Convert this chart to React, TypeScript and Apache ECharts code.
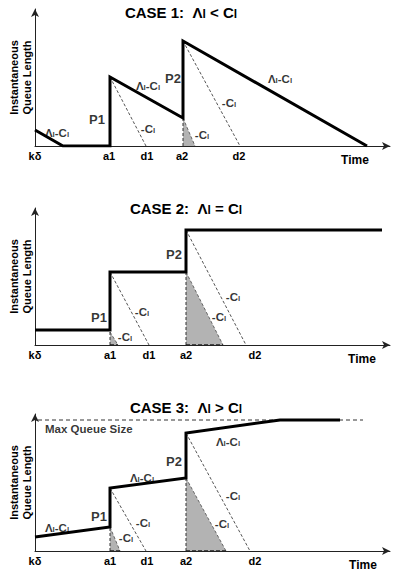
import React, { useEffect, useRef } from 'react';
import * as echarts from 'echarts';

const FONT = '"Liberation Sans", Arial, Helvetica, sans-serif';

// Shared scale (arbitrary schematic units)
const xMax = 355;
const yMax = 137;

type Note = [number, number, string];

// ---------- CASE 1: Λl < Cl ----------
const case1Queue = [[0, 16], [28, 0], [75, 0], [75, 69], [148, 28], [148, 105], [332, 0]];
const case1Drains = [[[75, 69], [111, 0]], [[148, 105], [205, 0]]];
const case1Shades = [[[148, 28], [160, 0]]];
const case1Ticks = [0, 74, 112, 147, 204];
const case1TickLabels = ['kδ', 'a1', 'd1', 'a2', 'd2'];
const case1TimeX = 320;
const case1Notes: Note[] = [
  [22, 14, 'RATE'], [62, 28, 'P1'], [113, 61, 'RATE'], [138, 69, 'P2'], [245, 68, 'RATE'],
  [113, 18, 'DRAIN'], [194, 44, 'DRAIN'], [167, 12, 'DRAIN'],
];

// ---------- CASE 2: Λl = Cl ----------
const case2Queue = [[0, 15], [75, 15], [75, 73], [151, 73], [151, 115], [347, 115]];
const case2Drains = [[[75, 73], [114, 0]], [[151, 115], [211, 0]]];
const case2Shades = [[[75, 13], [83, 0]], [[151, 73], [188, 0]]];
const case2Ticks = [0, 75, 114, 151, 220];
const case2TickLabels = ['kδ', 'a1', 'd1', 'a2', 'd2'];
const case2TimeX = 327;
const case2Notes: Note[] = [
  [64, 29, 'P1'], [139, 92, 'P2'], [107, 34, 'DRAIN'], [90, 9, 'DRAIN'], [198, 49, 'DRAIN'], [184, 29, 'DRAIN'],
];

// ---------- CASE 3: Λl > Cl ----------
const case3Queue = [[0, 14], [75, 24], [75, 63], [151, 73], [151, 118], [245, 131], [305, 131]];
const case3Drains = [[[75, 63], [111, 0]], [[151, 118], [215, 0]]];
const case3Shades = [[[75, 24], [85, 0]], [[151, 73], [191, 0]]];
const case3MaxQueue = [[3, 131], [328, 131]];
const case3Ticks = [0, 75, 112, 151, 220];
const case3TickLabels = ['kδ', 'a1', 'd1', 'a2', 'd2'];
const case3TimeX = 328;
const case3Notes: Note[] = [
  [22, 24, 'RATE'], [64, 36, 'P1'], [107, 74, 'RATE'], [139, 91, 'P2'], [193, 110, 'RATE'],
  [108, 29, 'DRAIN'], [91, 14, 'DRAIN'], [198, 56, 'DRAIN'], [187, 28, 'DRAIN'], [10, 123, 'MAX'],
];

const caseNames = ['CASE 1:', 'CASE 2:', 'CASE 3:'];
const caseOps = ['<', '=', '>'];

// layout
const gridTops = [9, 208, 414];
const titlePos = [[181, 11], [186, 207], [186, 406]];

const tokenBase = { fontFamily: FONT, fontWeight: 'bold', color: '#000', verticalAlign: 'bottom', textBorderWidth: 0, textBorderColor: 'transparent', textShadowBlur: 0 };
const richText = {
  b: { ...tokenBase, fontSize: 11.5, lineHeight: 13 },
  s: { ...tokenBase, fontSize: 8, lineHeight: 10 },
  p: { ...tokenBase, fontSize: 13, lineHeight: 15 },
};

function noteText(kind: string): string {
  if (kind === 'RATE') return '{b|Λ}{s|l}{b|-C}{s|l}';
  if (kind === 'DRAIN') return '{b|-C}{s|l}';
  if (kind === 'MAX') return '{b|Max Queue Size}';
  return '{p|' + kind + '}';
}

function buildPanel(
  i: number,
  queue: number[][],
  drains: number[][][],
  shades: number[][][],
  bottomDash: boolean,
  ticks: number[],
  tickLabels: string[],
  timeX: number,
  notes: Note[],
  maxLine?: number[][],
) {
  const base = { xAxisIndex: i, yAxisIndex: i, silent: true, animation: false };
  const series: any[] = [];
  shades.forEach((s) => {
    series.push({
      ...base, type: 'line', data: s, symbol: 'none', z: 1,
      lineStyle: { color: '#666', width: 1, type: [3, 2] },
      areaStyle: { color: '#b3b3b3', opacity: 1 },
    });
    series.push({
      ...base, type: 'line', data: [[s[0][0], 0], [s[0][0], s[0][1]]], symbol: 'none', z: 2,
      lineStyle: { color: '#333', width: 1, type: [3, 2] },
    });
    if (bottomDash) {
      series.push({
        ...base, type: 'line', data: [[s[0][0], 0], [s[1][0], 0]], symbol: 'none', z: 4,
        lineStyle: { color: '#222', width: 1.6, type: [4, 2] },
      });
    }
  });
  drains.forEach((d) => {
    series.push({
      ...base, type: 'line', data: d, symbol: 'none', z: 2,
      lineStyle: { color: '#555', width: 1, type: [3, 2] },
    });
  });
  if (maxLine) {
    series.push({
      ...base, type: 'line', data: maxLine, symbol: 'none', z: 2,
      lineStyle: { color: '#333', width: 1, type: [4, 3] },
    });
  }
  series.push({
    ...base, type: 'line', data: queue, symbol: 'none', z: 5,
    lineStyle: { color: '#000', width: 3, join: 'miter', cap: 'butt' },
  });
  series.push({
    ...base, type: 'scatter', z: 6, clip: false, symbolSize: 1,
    itemStyle: { color: 'rgba(0,0,0,0)' },
    data: notes.map((n) => ({
      value: [n[0], n[1]],
      label: n[2] === 'MAX' ? { align: 'left' } : undefined,
    })),
    label: {
      show: true, position: 'inside', color: '#000', textBorderWidth: 0, textBorderColor: 'transparent',
      formatter: (p: any) => noteText(notes[p.dataIndex][2]),
      rich: richText,
    },
  });

  const grid = { left: 35, top: gridTops[i], width: xMax, height: yMax, containLabel: false, outerBoundsMode: 'none' };
  const xAxis = {
    type: 'value', gridIndex: i, min: 0, max: xMax,
    splitLine: { show: false }, axisTick: { show: false },
    axisLine: { show: true, onZero: false, symbol: ['none', 'arrow'], symbolSize: [6, 8], lineStyle: { color: '#222', width: 1 } },
    axisLabel: {
      show: true, margin: 4, customValues: [...ticks, timeX],
      fontFamily: FONT, fontWeight: 'bold', fontSize: 11, color: '#000',
      formatter: (v: number) => {
        const k = ticks.indexOf(v);
        if (k >= 0) return '{b|' + tickLabels[k] + '}';
        return '{t|Time}';
      },
      rich: {
        b: { fontFamily: FONT, fontWeight: 'bold', fontSize: 11, color: '#000' },
        t: { fontFamily: FONT, fontWeight: 'bold', fontSize: 12, color: '#000', padding: [4, 0, 0, 0] },
      },
    },
  };
  const yAxis = {
    type: 'value', gridIndex: i, min: 0, max: yMax,
    splitLine: { show: false }, axisTick: { show: false }, axisLabel: { show: false },
    axisLine: { show: true, onZero: false, symbol: ['none', 'arrow'], symbolSize: [6, 8], lineStyle: { color: '#222', width: 1 } },
    name: 'Instantaneous\nQueue Length', nameLocation: 'middle', nameRotate: 90, nameGap: 2,
    nameTextStyle: { fontFamily: FONT, fontWeight: 'bold', fontSize: 11, lineHeight: 13, color: '#000' },
  };
  return { grid, xAxis, yAxis, series };
}

export default function App() {
  const ref = useRef<HTMLDivElement>(null);
  useEffect(() => {
    if (!ref.current) return;
    const chart = echarts.init(ref.current, undefined, { renderer: 'svg' });
    const panels = [
      buildPanel(0, case1Queue, case1Drains, case1Shades, false, case1Ticks, case1TickLabels, case1TimeX, case1Notes),
      buildPanel(1, case2Queue, case2Drains, case2Shades, true, case2Ticks, case2TickLabels, case2TimeX, case2Notes),
      buildPanel(2, case3Queue, case3Drains, case3Shades, true, case3Ticks, case3TickLabels, case3TimeX, case3Notes, case3MaxQueue),
    ];
    const graphic = caseNames.map((name, i) => ({
      type: 'text', x: titlePos[i][0], y: titlePos[i][1], silent: true,
      style: {
        text: '{t|' + name + '  Λ}{s|l}{t| ' + caseOps[i] + ' C}{s|l}',
        align: 'center', verticalAlign: 'middle',
        rich: {
          t: { fontFamily: FONT, fontWeight: 'bold', fontSize: 15, lineHeight: 17, fill: '#000', color: '#000', verticalAlign: 'bottom' },
          s: { fontFamily: FONT, fontWeight: 'bold', fontSize: 12, lineHeight: 15, fill: '#000', color: '#000', verticalAlign: 'bottom' },
        },
      },
    }));
    chart.setOption({
      animation: false,
      backgroundColor: '#fff',
      grid: panels.map((p) => p.grid),
      xAxis: panels.map((p) => p.xAxis),
      yAxis: panels.map((p) => p.yAxis),
      series: panels.flatMap((p) => p.series),
      graphic,
    });
    return () => chart.dispose();
  }, []);
  return (
    <div
      ref={ref}
      style={{ position: 'absolute', left: 0, top: 0, width: 396, height: 580, background: '#fff' }}
    />
  );
}
